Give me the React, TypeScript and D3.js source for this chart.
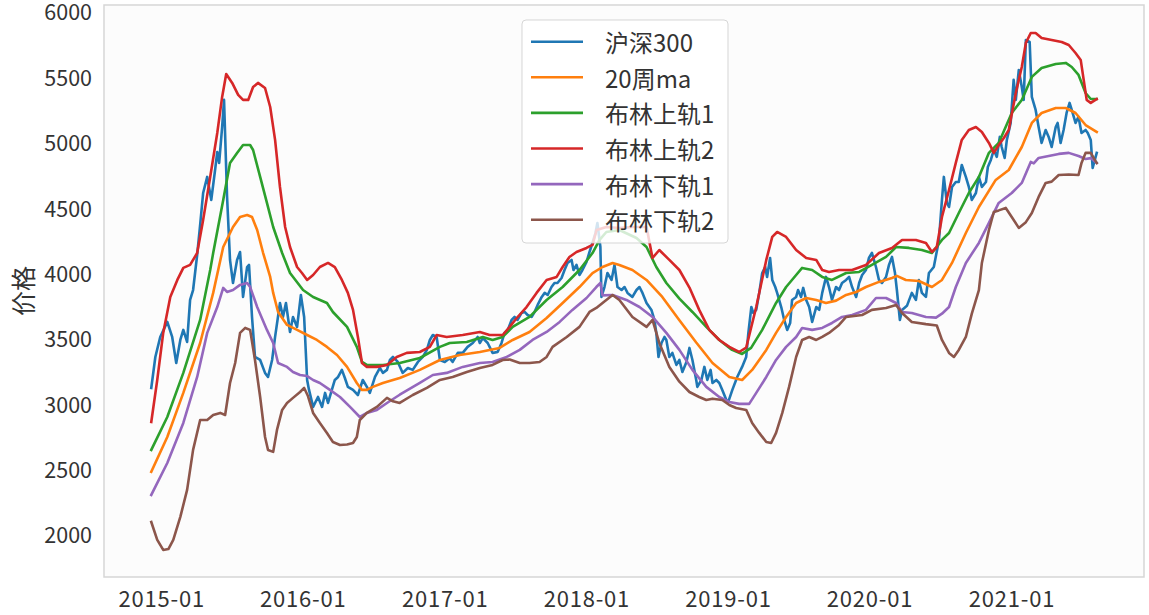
import React from "react";
import * as d3 from "d3";

// week offset from START (fractional), value
const START = new Date(2014, 11, 5);
const seriesNames = ["沪深300", "20周ma", "布林上轨1", "布林上轨2", "布林下轨1", "布林下轨2"];
const colors = ["#1f77b4", "#ff7f0e", "#2ca02c", "#d62728", "#9467bd", "#8c564b"];
const yTicks = [2000, 2500, 3000, 3500, 4000, 4500, 5000, 5500, 6000];
const xTickYears = [2015, 2016, 2017, 2018, 2019, 2020, 2021];

const hs300: [number, number][] = [
  [0, 3132], [1.5, 3369], [3.3, 3522], [5.9, 3637], [7.7, 3522], [9.2, 3323], [10.7, 3499], [11.8, 3576], [13.2, 3484],
  [14.3, 3805], [15.4, 3881], [16.9, 4149], [18, 4379], [19.1, 4623], [20.6, 4746], [22.1, 4570], [23.5, 4799], [24.3, 4937],
  [25, 4853], [26.1, 5128], [26.8, 5335], [27.9, 4600], [29, 4111], [30.1, 3935], [31.6, 4111], [32.7, 4172], [33.8, 3828],
  [35.3, 4057], [36, 4073], [37.1, 3675], [38.2, 3369], [40.1, 3346], [41.9, 3247], [43, 3216], [44.5, 3346], [45.6, 3522],
  [47.4, 3782], [48.5, 3675], [49.6, 3782], [51.1, 3560], [52.2, 3675], [53.7, 3599], [55.1, 3843], [56.3, 3675], [57.4, 3193],
  [58.1, 3117], [59.6, 2987], [61.4, 3063], [62.9, 2987], [64, 3094], [65.1, 3017], [66.5, 3117], [67.6, 3193], [68.8, 3216],
  [70.2, 3270], [71.3, 3208], [72.4, 3140], [74.3, 3117], [76.1, 3078], [77.9, 3193], [79.4, 3140], [80.5, 3094], [82.4, 3216],
  [84.2, 3285], [85.3, 3247], [86.8, 3270], [87.9, 3346], [89, 3369], [90.8, 3331], [92.6, 3247], [94.5, 3285], [96.3, 3270],
  [98.2, 3331], [100, 3369], [101.5, 3423], [102.6, 3499], [103.7, 3537], [105.1, 3522], [106.3, 3346], [108.1, 3331],
  [109.9, 3360], [111, 3331], [112.9, 3400], [114.7, 3400], [116.5, 3446], [118.4, 3476], [120.2, 3522], [121, 3476],
  [122.1, 3514], [123.9, 3476], [125.7, 3400], [127.6, 3408], [129, 3476], [130.1, 3553], [131.3, 3576], [132.7, 3652],
  [133.8, 3675], [134.9, 3652], [136.4, 3706], [137.5, 3714], [138.6, 3690], [140.1, 3675], [141.2, 3714], [142.3, 3767],
  [143.8, 3828], [144.9, 3859], [146, 3843], [147.4, 3904], [148.5, 3935], [149.6, 3935], [151.1, 3973], [152.2, 4034],
  [153.3, 4088], [154.8, 4111], [155.5, 4034], [156.6, 4073], [157.7, 3996], [158.8, 4034], [160.3, 4096], [161.4, 4172],
  [162.5, 4241], [163.6, 4317], [164.3, 4394], [165.4, 4210], [165.8, 3828], [166.9, 3904], [168, 4011], [169.5, 3958],
  [170.6, 4073], [171.7, 3904], [173.2, 3881], [174.3, 3904], [175.4, 3859], [177.2, 3828], [178.7, 3881], [179.8, 3904],
  [180.9, 3859], [182.4, 3782], [184.2, 3729], [185.3, 3652], [186, 3553], [186.8, 3369], [187.9, 3476], [189, 3522],
  [189.7, 3499], [190.8, 3369], [191.9, 3400], [193.4, 3308], [194.5, 3346], [195.6, 3254], [197.1, 3331], [198.2, 3438],
  [199.3, 3346], [200.7, 3193], [201.1, 3140], [202.6, 3193], [203.7, 3293], [204.8, 3193], [206, 3270], [206.7, 3170],
  [208.1, 3193], [209.2, 3170], [210.3, 3117], [211.8, 3040], [212.5, 3025], [214, 3117], [215.8, 3216], [217.6, 3293],
  [219.1, 3369], [219.9, 3553], [221, 3751], [221.7, 3706], [222.8, 3729], [223.9, 3859], [225, 4011], [226.1, 4057],
  [226.8, 3981], [227.9, 4126], [228.7, 3958], [229.8, 3904], [230.5, 3859], [232, 3751], [233.1, 3652], [234.2, 3576],
  [235.3, 3629], [236, 3805], [237.5, 3828], [238.2, 3881], [239.3, 3828], [240.1, 3897], [241.2, 3805], [242.3, 3751],
  [243.4, 3637], [244.9, 3751], [246, 3729], [247.1, 3859], [248.5, 3981], [249.6, 3904], [250.7, 3805], [252.2, 3904],
  [253.3, 3881], [254.4, 3935], [255.9, 3958], [257, 3981], [258.1, 3904], [259.6, 3828], [260.7, 3935], [261.8, 3996],
  [263.2, 4034], [264.3, 4126], [265.4, 4165], [266.9, 4057], [268, 3958], [269.1, 3935], [270.6, 3981], [271.7, 4073],
  [272.8, 4134], [273.9, 4011], [274.6, 3881], [275.7, 3652], [276.5, 3729], [278.3, 3760], [280.1, 3859], [281.6, 3805],
  [282.7, 3958], [283.8, 3859], [285.3, 3828], [286.4, 4011], [288.2, 4057], [290.1, 4264], [291.2, 4570], [291.9, 4746],
  [293, 4547], [293.8, 4516], [294.9, 4669], [296.3, 4707], [297.4, 4707], [298.5, 4837], [300, 4746], [301.1, 4669],
  [302.2, 4570], [303.7, 4623], [304.8, 4746], [305.9, 4669], [307.4, 4707], [308.1, 4822], [309.2, 4876], [310.3, 4952],
  [311.4, 4899], [312.5, 5052], [313.2, 4975], [314.3, 4891], [315.1, 5029], [316.5, 5159], [317.6, 5488], [318.4, 5335],
  [319.5, 5564], [320.6, 5434], [321.3, 5335], [322.1, 5793], [323.5, 5778], [324.3, 5358], [325.7, 5258], [326.8, 5128],
  [327.9, 5006], [329.4, 5105], [330.5, 5052], [331.6, 4975], [333.1, 5128], [333.8, 5159], [334.9, 5006], [336, 5105],
  [337.1, 5235], [338.2, 5312], [339, 5258], [340.4, 5159], [341.5, 5205], [342.6, 5082], [344.1, 5105], [344.9, 5082],
  [346, 5029], [346.7, 4815], [347.8, 4899], [348.2, 4930],
];

const ma20: [number, number][] = [
  [0, 2490], [5.9, 2757], [11.8, 3094], [18, 3476], [22.8, 3859], [26.5, 4210], [30.1, 4363], [32.7, 4440], [35.3, 4455],
  [37.1, 4440], [39, 4340], [41.2, 4164], [43.8, 3981], [44.9, 3859], [46.7, 3713], [50, 3614], [53.7, 3576], [57.4, 3537],
  [61, 3499], [64.7, 3446], [68.4, 3384], [72.1, 3293], [75.7, 3170], [77.6, 3117], [79.4, 3117], [81.6, 3140], [85.3, 3170],
  [89, 3193], [91.5, 3208], [98.9, 3270], [106.3, 3346], [113.6, 3384], [121, 3407], [124.6, 3423], [128.3, 3438],
  [133.1, 3499], [139.3, 3560], [145.6, 3667], [151.5, 3782], [157.7, 3904], [162.5, 4011], [166.2, 4057], [169.9, 4088],
  [172.4, 4073], [177.2, 4034], [182.4, 3958], [188.2, 3828], [194.5, 3650], [200.7, 3480], [206.7, 3323], [212.9, 3216],
  [217.6, 3193], [221.3, 3270], [226.5, 3423], [230.1, 3553], [233.8, 3675], [237.5, 3782], [241.2, 3820], [244.9, 3805],
  [248.5, 3782], [252.2, 3800], [255.9, 3843], [259.6, 3866], [263.2, 3904], [268, 3943], [272.8, 3973], [274.6, 3989],
  [277.9, 3958], [282.7, 3950], [287.5, 3904], [291.2, 3958], [294.9, 4088], [300, 4317], [304.8, 4516], [311, 4723],
  [315.8, 4799], [320.6, 4975], [324.3, 5159], [327.9, 5235], [333.1, 5273], [336.8, 5273], [340.4, 5235], [344.1, 5143],
  [348.2, 5090],
];

const upper1: [number, number][] = [
  [0, 2658], [5.9, 2910], [11.8, 3247], [18, 3652], [21.7, 4034], [22.8, 4164], [26.5, 4570], [29, 4853], [31.6, 4929],
  [33.8, 4990], [36.4, 4990], [37.5, 4952], [40.1, 4746], [42.6, 4547], [44.9, 4363], [48.2, 4164], [51.1, 4011],
  [55.9, 3881], [59.6, 3828], [64.7, 3782], [66.9, 3713], [72.1, 3599], [75.7, 3446], [77.6, 3331], [79.4, 3308],
  [85.3, 3308], [91.5, 3323], [98.9, 3361], [106.3, 3446], [109.9, 3476], [116.2, 3484], [122.1, 3522], [125.7, 3499],
  [129.4, 3522], [133.1, 3599], [139.3, 3675], [145.6, 3805], [151.5, 3904], [157.7, 4034], [162.5, 4164], [165.1, 4264],
  [167.6, 4325], [172.4, 4340], [178.7, 4279], [182.4, 4210], [186, 4057], [189.7, 3935], [194.5, 3815], [199.3, 3713],
  [204.4, 3599], [209.2, 3499], [213.9, 3423], [217.6, 3392], [220.9, 3438], [225, 3576], [230.1, 3782], [233.8, 3904],
  [237.5, 3996], [239.7, 4050], [243.4, 4034], [247.1, 3981], [250.7, 3958], [255.9, 4011], [260.7, 4019], [265.4, 4073],
  [270.6, 4134], [274.3, 4210], [279, 4203], [283.8, 4187], [287.5, 4164], [291.2, 4264], [293.8, 4317], [297.4, 4470],
  [301.1, 4623], [304.8, 4746], [308.5, 4930], [312.1, 5006], [316.9, 5235], [320.6, 5335], [324.3, 5511], [327.9, 5579],
  [333.1, 5610], [336.8, 5618], [339, 5587], [341.5, 5526], [344.1, 5388], [346, 5342], [348.2, 5342],
];

const upper2: [number, number][] = [
  [0, 2872], [2.2, 3193], [4.4, 3553], [7, 3828], [9.6, 3958], [11.8, 4050], [14.3, 4073], [16.9, 4164], [19.1, 4417],
  [21.7, 4746], [24.3, 5082], [26.1, 5358], [27.6, 5533], [29.8, 5465], [32, 5373], [33.8, 5335], [35.7, 5335],
  [37.5, 5434], [39.3, 5465], [41.9, 5426], [43.8, 5281], [45.6, 5029], [47.4, 4669], [49.3, 4363], [51.1, 4210],
  [53.7, 4057], [55.5, 4011], [57.4, 3958], [59.6, 3996], [62.1, 4057], [65.1, 4088], [67.6, 4057], [70.2, 3958],
  [72.4, 3859], [74.3, 3729], [76.1, 3522], [77.6, 3323], [79.4, 3293], [83.1, 3293], [86.8, 3308], [90.4, 3369],
  [94.1, 3400], [98.9, 3407], [102.6, 3446], [105.1, 3537], [108.8, 3522], [114.7, 3537], [121, 3560], [124.6, 3537],
  [129.4, 3537], [132, 3599], [134.6, 3667], [138.2, 3751], [141.9, 3859], [145.6, 3958], [149.3, 3981], [151.5, 4057],
  [154, 4134], [156.6, 4172], [160.3, 4203], [162.5, 4226], [164, 4340], [167.6, 4363], [172.4, 4355], [177.2, 4363],
  [182.4, 4363], [184.6, 4126], [187.1, 4187], [190.8, 4111], [194.5, 4034], [198.2, 3900], [201.8, 3729], [205.5, 3576],
  [209.2, 3499], [212.9, 3446], [216.5, 3407], [219.1, 3440], [222.8, 3751], [226.5, 4111], [228.7, 4287], [230.5, 4325],
  [233.8, 4287], [237.5, 4187], [241.2, 4126], [244.9, 4111], [247.1, 4034], [249.6, 4019], [253.3, 4034], [258.1, 4034],
  [263.2, 4073], [268, 4164], [272.8, 4203], [276.5, 4264], [281.6, 4264], [285.3, 4241], [287.5, 4172], [289.3, 4210],
  [291.2, 4440], [293.8, 4646], [296.3, 4853], [298.5, 5029], [301.1, 5105], [303.7, 5128], [305.9, 5090], [308.5, 5006],
  [310.3, 4930], [312.1, 4990], [314, 5044], [315.8, 5105], [318.4, 5388], [320.6, 5587], [322.1, 5771], [323.9, 5847],
  [325.7, 5847], [327.9, 5809], [331.6, 5793], [335.3, 5778], [337.9, 5755], [340.4, 5694], [342.3, 5641], [343.4, 5488],
  [344.5, 5335], [346, 5312], [348.2, 5342],
];

const lower1: [number, number][] = [
  [0, 2314], [5.9, 2558], [11.8, 2864], [16.9, 3216], [20.6, 3553], [24.3, 3751], [26.5, 3897], [27.9, 3866], [30.1, 3881],
  [32.7, 3920], [35.3, 3935], [36.4, 3905], [39, 3751], [42.6, 3576], [44.9, 3476], [46.7, 3323], [50, 3293], [52.2, 3254],
  [54.8, 3231], [57.4, 3223], [59.6, 3193], [62.1, 3170], [65.8, 3117], [69.5, 3063], [73.2, 2987], [76.8, 2910],
  [79.4, 2941], [83.1, 2964], [86.8, 3017], [91.5, 3080], [98.9, 3170], [103.7, 3231], [108.8, 3247], [114.7, 3293],
  [121, 3323], [125.7, 3331], [130.9, 3369], [135.7, 3423], [140.4, 3499], [145.6, 3560], [150.4, 3637], [155.1, 3729],
  [160.3, 3820], [163.9, 3904], [165.4, 3935], [166.2, 3840], [169.9, 3843], [175, 3805], [179.8, 3751], [184.6, 3675],
  [189.7, 3553], [194.5, 3423], [199.3, 3270], [204.4, 3140], [209.2, 3063], [212.9, 3025], [216.5, 3010], [220.2, 3010],
  [222.8, 3094], [226.5, 3216], [230.1, 3346], [233.8, 3446], [237.5, 3522], [239.7, 3591], [243.4, 3576], [247.1, 3591],
  [250.7, 3629], [254.4, 3675], [258.1, 3690], [263.2, 3729], [266.9, 3820], [270.6, 3820], [274.3, 3782], [276.5, 3713],
  [280.1, 3705], [285.3, 3675], [289, 3670], [291.2, 3700], [293.8, 3751], [296.3, 3904], [300, 4088], [304.8, 4241],
  [308.5, 4394], [312.1, 4547], [316.9, 4623], [320.6, 4700], [323.9, 4861], [325, 4850], [326.8, 4891], [330.5, 4906],
  [334.2, 4922], [337.9, 4930], [341.5, 4906], [344.1, 4883], [346, 4890], [348.2, 4853],
];

const lower2: [number, number][] = [
  [0, 2107], [2.2, 1970], [4.4, 1893], [6.3, 1900], [8.1, 1970], [10.7, 2146], [13.2, 2352], [15.4, 2658], [18, 2887],
  [20.6, 2887], [22.8, 2925], [25.4, 2941], [27.2, 2925], [29, 3170], [30.9, 3323], [32.7, 3553], [34.6, 3591], [36.4, 3576],
  [38.2, 3346], [40.1, 3063], [41.9, 2757], [43, 2658], [44.9, 2643], [46.3, 2811], [48.2, 2964], [50, 3017], [52.2, 3056],
  [54.8, 3101], [56.3, 3132], [57.7, 3070], [59.6, 2941], [62.1, 2864], [64.7, 2788], [66.9, 2719], [69.5, 2696],
  [72.1, 2700], [74.3, 2711], [75.7, 2757], [76.8, 2887], [79.4, 2941], [83.1, 2987], [86.8, 3056], [89, 3030], [91.5, 3017],
  [96.3, 3078], [101.5, 3132], [106.3, 3193], [111, 3216], [116.2, 3254], [121, 3285], [125.7, 3308], [129.4, 3346],
  [132, 3350], [135.7, 3323], [139.3, 3323], [143, 3330], [145.6, 3369], [147.8, 3446], [153, 3522], [157.7, 3599],
  [161.4, 3713], [163.9, 3744], [166.2, 3782], [169.9, 3843], [172.4, 3805], [177.2, 3675], [182.4, 3599], [184.6, 3652],
  [187.1, 3476], [190.8, 3293], [194.5, 3180], [198.2, 3101], [201.8, 3063], [204.4, 3040], [206.7, 3050], [210.3, 3040],
  [212.9, 3002], [215.4, 2979], [219.1, 2964], [221.3, 2864], [223.9, 2788], [226.5, 2719], [228.3, 2711], [230.1, 2788],
  [232.4, 2941], [234.9, 3140], [237.5, 3369], [239.7, 3499], [242.3, 3522], [244.9, 3499], [247.1, 3522], [249.6, 3553],
  [253.3, 3614], [255.9, 3675], [261.8, 3690], [265.4, 3729], [270.6, 3744], [274.3, 3767], [276.5, 3705], [280.1, 3637],
  [285.3, 3620], [289.3, 3610], [291.2, 3499], [293.8, 3400], [295.6, 3369], [297.4, 3423], [300, 3522], [302.2, 3700],
  [304.8, 3881], [305.9, 4088], [308.5, 4340], [310.3, 4478], [312.1, 4490], [314.7, 4509], [316.9, 4440], [319.5, 4356],
  [322.1, 4400], [324.3, 4470], [326.8, 4593], [329.4, 4700], [331.6, 4710], [334.2, 4761], [337.9, 4765], [341.5, 4761],
  [342.6, 4853], [344.1, 4930], [346, 4930], [348.2, 4853],
];

const allSeries = [hs300, ma20, upper1, upper2, lower1, lower2];

const W = 1149;
const H = 615;
const plot = { left: 104, right: 1144, top: 5, bottom: 577 };
const FONT = '"Noto Sans CJK SC", "DejaVu Sans", sans-serif';

const toDate = (w: number) => new Date(START.getTime() + w * 7 * 86400000);

export default function App() {
  const spanW = 348.2;
  const x = d3
    .scaleTime()
    .domain([toDate(-0.05 * spanW), toDate(spanW * 1.05)])
    .range([plot.left, plot.right]);
  const y = d3.scaleLinear().domain([1686, 6061]).range([plot.bottom, plot.top]);
  const line = d3
    .line<[number, number]>()
    .x((d) => x(toDate(d[0])))
    .y((d) => y(d[1]));
  const fmt = d3.timeFormat("%Y-%m");

  const legendX = 522;
  const legendY = 20;
  const rowH = 35.6;

  return (
    <svg
      width={W}
      height={H}
      style={{ position: "absolute", left: 0, top: 0, background: "#fff" }}
      fontFamily={FONT}
    >
      <defs>
        <clipPath id="clip">
          <rect x={plot.left} y={plot.top} width={plot.right - plot.left} height={plot.bottom - plot.top} />
        </clipPath>
      </defs>
      <rect
        x={plot.left}
        y={plot.top}
        width={plot.right - plot.left}
        height={plot.bottom - plot.top}
        fill="#fcfcfc"
      />
      <g clipPath="url(#clip)">
        {allSeries.map((s, i) => (
          <path
            key={i}
            d={line(s) || ""}
            fill="none"
            stroke={colors[i]}
            strokeWidth={2.6}
            strokeLinejoin="round"
            strokeLinecap="square"
          />
        ))}
      </g>
      <rect
        x={plot.left}
        y={plot.top}
        width={plot.right - plot.left}
        height={plot.bottom - plot.top}
        fill="none"
        stroke="#d6d6d6"
        strokeWidth={1.5}
      />
      {yTicks.map((t) => (
        <text key={t} x={92} y={y(t) + 7.5} textAnchor="end" fontSize={21.5} fill="#333">
          {t}
        </text>
      ))}
      {xTickYears.map((yr) => {
        const d = new Date(yr, 0, 1);
        return (
          <text
            key={yr}
            x={x(d)}
            y={597}
            textAnchor="middle"
            dominantBaseline="central"
            fontSize={22}
            letterSpacing={0.8}
            fill="#333"
          >
            {fmt(d)}
          </text>
        );
      })}
      <text
        transform={`translate(22, 291) rotate(-90)`}
        textAnchor="middle"
        dominantBaseline="central"
        fontSize={25}
        fill="#333"
      >
        价格
      </text>
      <g>
        <rect
          x={legendX}
          y={legendY}
          width={206}
          height={223}
          rx={4}
          fill="#ffffff"
          fillOpacity={0.8}
          stroke="#cccccc"
          strokeOpacity={0.8}
        />
        {seriesNames.map((n, i) => {
          const cy = legendY + 21.7 + i * rowH;
          return (
            <g key={n}>
              <line x1={531} x2={583} y1={cy} y2={cy} stroke={colors[i]} strokeWidth={2.6} />
              <text x={605} y={cy} dominantBaseline="central" fontSize={24} fill="#333">
                {n}
              </text>
            </g>
          );
        })}
      </g>
    </svg>
  );
}
